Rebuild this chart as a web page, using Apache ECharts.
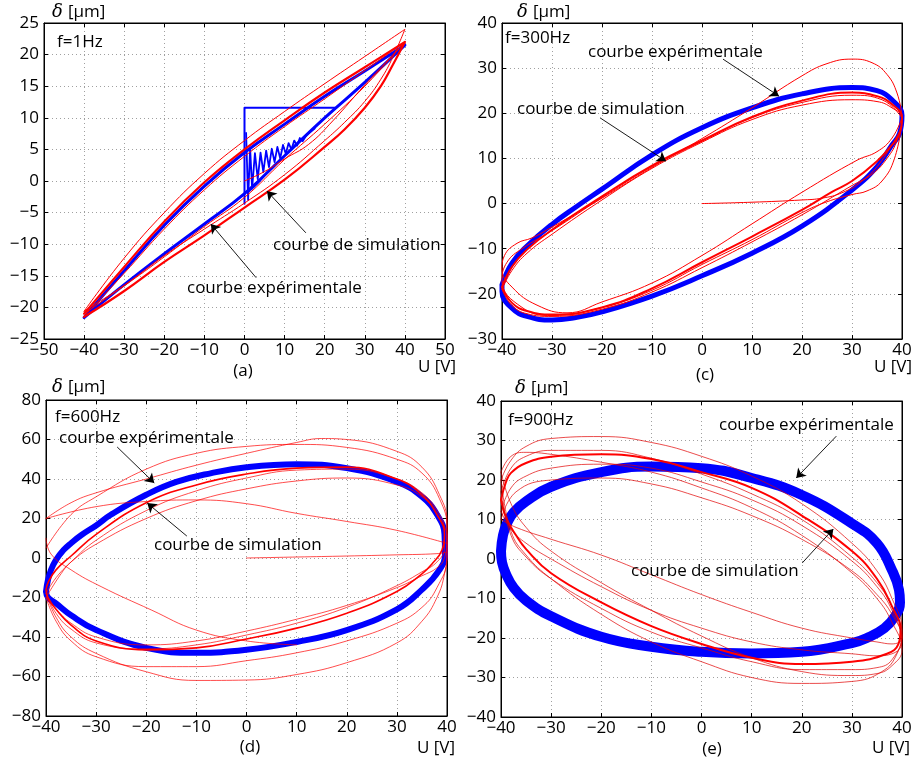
<!DOCTYPE html>
<html>
<head>
<meta charset="utf-8">
<script src="https://cdn.jsdelivr.net/npm/echarts@6/dist/echarts.min.js"></script>
<style>html,body{margin:0;padding:0;background:#fff}#c{width:918px;height:764px}</style>
</head>
<body>
<div id="c"></div>
<script>
// ---------------- DATA ----------------
// panel (a) f=1Hz
const a_exp_loop = [[-40,-21.6],[-30,-14.2],[-20,-7],[-10,-0.8],[0,4.5],[10,9],[20,13.4],[30,17.4],[40,21.5],[30,15.6],[20,10],[10,4],[0,-2],[-10,-6.8],[-20,-11.5],[-30,-16.4],[-40,-21.6]];
const a_exp_step = [[0,-3.6],[0,11.6],[22.5,11.6]];
const a_exp_ring = [[0.4,7.6],[0.9,-3],[1.4,5.2],[1.9,-1.2],[2.6,4.4],[3.3,0.3],[4,4.5],[4.7,1.4],[5.4,4.8],[6.1,2.2],[6.8,5.1],[7.5,3],[8.2,5.4],[8.9,3.6],[9.6,5.7],[10.3,4.3],[11,6],[11.7,5],[12.4,6.4],[13.1,5.6],[13.8,6.8],[14.5,6.3],[15.5,7.3],[17.5,8.3]];
const a_exp_foot = [[1.2,-1.6],[3.5,-0.2],[6,1.6]];
const a_sim_main = [[-40,-21],[-30,-13.6],[-20,-6.4],[-10,-0.2],[0,5],[10,9.6],[20,14],[30,18],[40,22],[37,18.4],[34,15],[30,11.6],[25,8.2],[20,5.4],[10,0.2],[0,-4.2],[-10,-8.6],[-20,-12.8],[-30,-17.4],[-40,-21.5]];
const a_sim_outer = [[-40,-20.6],[-30,-12.2],[-20,-5],[-10,1.2],[0,6.4],[10,11],[20,15.4],[30,19.7],[40,24],[37,19.6],[34,16.1],[30,12.6],[25,9.3],[20,6.4],[10,1],[0,-3.5],[-10,-7.6],[-20,-11.8],[-30,-16.5],[-40,-20.6]];
const a_sim_inner = [[-40,-21.4],[-30,-14.6],[-20,-7.6],[-10,-1.4],[0,3.9],[10,8.6],[20,13],[30,17.5],[40,22],[30,15],[20,9],[10,3.4],[0,-2.6],[-10,-7.2],[-20,-12],[-30,-16.6],[-40,-21]];
const a_sim_init = [[0,0],[5,1.5],[10,3.5],[16,5.8],[22,9.5],[30,15.2],[40,22]];

// panel (c) f=300Hz
const c_exp_loop = [[-40,-18],[-38,-13.2],[-35,-9.4],[-30,-4.6],[-25,-0.6],[-20,3.2],[-10,10.8],[0,16.8],[10,21.2],[20,24.3],[30,25.7],[35,25],[38,23],[40,19.5],[39.5,15.5],[38,13],[35,8.2],[30,3],[20,-5],[10,-11],[0,-16],[-10,-20.5],[-20,-24],[-25,-25.2],[-30,-25.8],[-35,-25],[-38,-23.2],[-40,-19.5],[-40,-18]];
const c_sim_main = [[-40,-18.5],[-38,-14],[-35,-10.2],[-30,-5.8],[-20,1.6],[-10,8.4],[0,14],[10,19.2],[20,22.8],[30,24.6],[35,23.8],[38,22],[40,19],[39.5,15.5],[38,13],[35,9.4],[30,5],[26,2.6],[20,-1.4],[10,-7.3],[0,-13],[-10,-18.8],[-20,-23],[-30,-24.6],[-35,-23.8],[-38,-22],[-40,-18.5]];
const c_sim_b = [[-40,-19],[-38,-14.8],[-35,-11],[-30,-6.8],[-20,0.8],[-10,7.8],[0,13.6],[10,18.6],[20,21.8],[30,23],[35,22.6],[38,21.2],[40,19],[39,14],[37,10],[34,6.5],[30,4],[20,-2.5],[10,-8.5],[0,-14.2],[-10,-19.6],[-20,-23.4],[-30,-25],[-35,-24.4],[-38,-22.6],[-40,-19]];
const c_sim_c = [[40,19],[38,14.5],[35,11.5],[31,9.6],[20,2.5],[10,-4.5],[0,-11.5],[-10,-17.6],[-20,-21.8],[-27,-24.2],[-33,-22.5],[-38,-18.5],[-40,-14.5],[-39.5,-11.5],[-37,-8.8],[-34,-7.6],[-30,-5.2],[-20,1.2],[-10,8],[0,14.4],[10,21.2],[20,28.3],[25,31],[30,32],[34,31.2],[37,28.6],[39,24.5],[40,19.5]];
const c_sim_d = [[40,18],[38.5,10],[36,5],[33,2.8],[30,2],[25,0.4],[20,-2],[10,-8],[0,-13.5],[-10,-19.2],[-20,-23],[-30,-24.8],[-36,-23],[-40,-17],[-39,-13],[-36,-10],[-30,-6],[-20,1.3],[-10,8.2],[0,13.8],[10,19],[20,22.4],[30,24],[36,23],[40,19]];
const c_sim_init = [[0,0],[10,0.3],[20,0.8],[24,1.2],[28,2.4],[32,5],[36,9.6],[40,17]];

// panel (d) f=600Hz
const d_exp_loop = [[-40,-17],[-39.6,-11],[-39,-6],[-38,-1],[-36.5,4],[-35,7.5],[-33,11.5],[-30,16.5],[-27,22],[-20,32],[-14,38.5],[-7,43],[0,46],[10,47.5],[20,45.5],[30,38.5],[35,31],[38,22],[39.5,12],[39.6,2],[38.5,-6],[35,-16],[30,-26],[20,-36.5],[10,-42.5],[0,-46.5],[-10,-48],[-20,-45.5],[-30,-36.5],[-35,-29],[-38,-23],[-39.6,-20],[-40,-17]];
const d_sim_main = [[-40,-16],[-39.5,-12],[-38,-6],[-35,1],[-30,12],[-20,28],[-10,37],[0,42.5],[10,45.5],[20,46],[30,40],[35,32],[38,22],[39.5,12],[39,4],[37,-3],[35,-8],[30,-17],[20,-28],[10,-35.5],[0,-41],[-10,-45.5],[-20,-46.5],[-30,-42],[-35,-34],[-38,-26],[-39.6,-20],[-40,-16]];
const d_sim_b = [[-40,-18],[-38,-10],[-35,-2],[-30,9],[-20,24],[-10,34],[0,40.5],[10,44.5],[20,45],[30,40],[35,33],[38,24],[39.5,14],[39.5,5],[38,-2],[35,-7],[30,-14],[20,-25],[10,-33],[0,-39],[-10,-44],[-20,-46],[-30,-43],[-35,-36],[-38,-28],[-40,-18]];
const d_sim_in = [[-40,-20],[-37,-8],[-35,-2],[-30,7],[-20,20],[-10,29],[0,35],[10,39],[20,40.5],[30,37],[35,31],[38,22],[40,10],[39.5,0],[38,-5],[35,-9],[30,-15],[20,-24],[10,-31],[0,-37],[-10,-42],[-20,-44],[-30,-40],[-35,-33],[-38,-26],[-40,-20]];
const d_sim_o1 = [[-40,5],[-35,22],[-30,31],[-20,45],[-10,53],[0,56.5],[10,57.5],[20,56],[30,50],[35,43],[38.5,30],[40,15],[40,5],[39.5,-8],[38,-20],[35,-32],[30,-43],[20,-53],[10,-59],[0,-61.8],[-10,-62],[-20,-57.6],[-30,-48.3],[-35,-40],[-38,-30],[-40,-18]];
const d_sim_o2 = [[-40,20],[-35,28],[-30,33],[-20,40],[-10,47],[0,53],[10,58.5],[15,60.5],[20,60],[30,54],[35,46],[38.5,32],[40,18],[40,0],[38,-15],[35,-25],[30,-33],[20,-42],[10,-48],[0,-52],[-10,-55],[-20,-55],[-30,-50],[-35,-42],[-38,-32],[-40,-20]];
const d_sim_x1 = [[-40,20],[-30,26],[-20,28.6],[-10,29.4],[0,27.5],[10,22.6],[20,18.5],[30,14],[40,7.4]];
const d_sim_x2 = [[-40,10],[-39,2],[-35,-6],[-29,-14.5],[-19,-26.3],[-10,-36.5],[0,-42],[10,-44]];
const d_sim_init = [[0,0],[10,0.5],[20,1],[30,1.6],[38,2.2],[40,3]];

// panel (e) f=900Hz
const e_exp_loop = [[-40,2],[-39.6,6],[-38.8,9],[-37.5,11.8],[-35,14.6],[-30,18.3],[-20,22],[-10,23.4],[0,23],[10,20.5],[20,16.2],[30,9],[35,4],[38,-2.8],[39.4,-7.8],[39.6,-11],[38.6,-14.5],[36.5,-17.5],[33,-20],[30,-21.3],[20,-23.5],[10,-23.9],[0,-23.5],[-10,-22.2],[-20,-19.7],[-30,-14.5],[-35,-10.5],[-37.5,-7.2],[-39,-3.8],[-39.8,-0.8],[-40,2]];
const e_sim_main = [[-40,15],[-39,19.5],[-38,21.8],[-35,24.3],[-30,25.9],[-20,26.5],[-10,25.3],[0,22],[10,18],[20,11],[30,2],[35,-5],[38,-12],[39.7,-18],[39.3,-21.5],[37,-24],[30,-26],[20,-26.6],[10,-25],[0,-21.5],[-10,-17],[-20,-11],[-30,-3.6],[-35,2.5],[-37,6],[-39,10.5],[-40,15]];
const e_sim_o1 = [[-40,20],[-38,25],[-35,28.5],[-30,30.5],[-20,31],[-10,29.5],[0,26],[10,21],[20,14],[30,4],[35,-3],[38,-10],[40,-18],[39,-24],[36,-28.5],[30,-31],[20,-31.5],[10,-30],[0,-26],[-10,-21],[-20,-14],[-30,-5],[-35,1],[-38,7],[-40,20]];
const e_sim_i1 = [[-40,10],[-37,17],[-30,20],[-20,20.5],[-10,19],[0,15.5],[10,11],[20,5],[30,-3],[35,-9],[38,-14],[40,-20],[38,-21.5],[35,-21],[30,-20],[20,-17.5],[10,-13.5],[0,-9],[-10,-4],[-20,1],[-30,5],[-37,8],[-40,10]];
const e_sim_v2 = [[-40,17],[-38,23],[-35,26],[-30,27.5],[-20,27.5],[-10,25.5],[0,21.5],[10,16.5],[20,10],[30,0.5],[35,-6],[38,-12],[40,-19],[38,-25.5],[35,-27.5],[30,-28],[20,-28],[10,-26],[0,-22.5],[-10,-18.5],[-20,-12.5],[-30,-5],[-35,0.5],[-38,6],[-40,17]];
const e_sim_v3 = [[-40,12],[-38,18],[-35,21],[-30,23],[-20,24],[-10,23],[0,19.5],[10,15],[20,8.5],[30,-0.5],[35,-7],[38,-13],[40,-21],[38,-24],[35,-24.5],[30,-24],[20,-23],[10,-21],[0,-17.5],[-10,-13],[-20,-7],[-30,0],[-35,4],[-38,7.5],[-40,12]];
const e_sim_v4 = [[-40,22],[-38,26],[-35,27],[-30,26.5],[-20,24.5],[-10,22],[0,18],[10,13],[20,6],[30,-3.5],[35,-10],[38,-16],[40,-23],[38,-27],[35,-29],[30,-29.5],[20,-28.5],[10,-25],[0,-19.5],[-10,-13],[-20,-6],[-30,2],[-35,8],[-38,14],[-40,22]];

// axis ranges / ticks
const axX = [[-50,50,10],[-40,40,10],[-40,40,10],[-40,40,10]];
const axY = [[-25,25,5],[-30,40,10],[-80,80,20],[-40,40,10]];
const freqLabels = ['f=1Hz','f=300Hz','f=600Hz','f=900Hz'];
const panelLabels = ['(a)','(c)','(d)','(e)'];
const annExp = 'courbe expérimentale';
const annSim = 'courbe de simulation';
// arrow start/end (data coords) : [exp, sim]
const arrows = [
  [[[2.9,-15.3],[-8.4,-6.8]], [[15.3,-8.2],[5.6,-1.6]]],
  [[[4.2,32],[15.4,23.8]], [[-20.4,19],[-7.2,9.4]]],
  [[[-25.8,56.2],[-18.4,38]], [[-11.9,11.1],[-19.8,27.8]]],
  [[[26.9,31.1],[18.9,20.5]], [[20.1,-1],[26.3,7.6]]]
];

// ---------------- CHART ----------------
const FONT = '"Open Sans", sans-serif';
const grids = [
  {left:44, top:23, width:401, height:316},
  {left:502, top:23, width:400, height:316},
  {left:46, top:400, width:401, height:316},
  {left:501, top:401, width:401, height:316}
];
const minus = v => String(v).replace('-', '\u2212');
const xAxes = [], yAxes = [];
grids.forEach((g, i) => {
  const [x0,x1,xi] = axX[i], [y0,y1,yi] = axY[i];
  const common = () => ({axisLine:{show:true,onZero:false,lineStyle:{color:'#000',width:1}}, axisTick:{show:true,inside:true,length:4,lineStyle:{color:'#000'}}});
  const split = {show:true, lineStyle:{color:'#a0a0a0', type:[1,3], width:1}};
  xAxes.push(Object.assign({type:'value', gridIndex:i, min:x0, max:x1, interval:xi, position:'bottom',
    axisLabel:{show:true, color:'#000', fontFamily:FONT, fontSize:17, margin:3, formatter:minus, showMaxLabel:true, showMinLabel:true},
    splitLine:split}, common()));
  xAxes.push(Object.assign({type:'value', gridIndex:i, min:x0, max:x1, interval:xi, position:'top',
    axisLabel:{show:false}, splitLine:{show:false}}, common()));
  yAxes.push(Object.assign({type:'value', gridIndex:i, min:y0, max:y1, interval:yi, position:'left',
    axisLabel:{show:true, color:'#000', fontFamily:FONT, fontSize:17, margin:5, formatter:minus},
    splitLine:split}, common()));
  yAxes.push(Object.assign({type:'value', gridIndex:i, min:y0, max:y1, interval:yi, position:'right',
    axisLabel:{show:false}, splitLine:{show:false}}, common()));
});

function ln(data, gi, color, width, z, extra) {
  return Object.assign({type:'line', data:data, xAxisIndex:2*gi, yAxisIndex:2*gi, showSymbol:false, symbol:'none',
    smooth:0.45, lineStyle:{color:color, width:width, cap:'round', join:'round'}, z:z||2, clip:true, animation:false, silent:true}, extra||{});
}
function marks(i) {
  return {silent:true, animation:false, symbol:['none','arrow'], symbolSize:9,
    lineStyle:{color:'#000', width:0.9, type:'solid'}, itemStyle:{color:'#000'}, label:{show:false}, emphasis:{disabled:true},
    data: arrows[i].map(a => [{coord:a[0]},{coord:a[1]}])};
}
const BLUE = '#0000ff', RED = '#ff0000', RED2 = 'rgba(255,0,0,0.7)', RED3 = 'rgba(225,0,0,0.7)';
const series = [
  // (a)
  ln(a_exp_loop,0,BLUE,3,2),
  ln(a_exp_step,0,BLUE,2,2,{smooth:false}),
  ln(a_exp_ring,0,BLUE,1.8,2,{smooth:false}),
  ln(a_exp_foot,0,BLUE,1.8,2),
  ln(a_sim_main,0,RED,2.2,3),
  ln(a_sim_outer,0,RED,1,3),
  ln(a_sim_inner,0,RED,1,3),
  ln(a_sim_init,0,RED,1,3,{markLine:marks(0), z:5}),
  // (c)
  ln(c_exp_loop,1,BLUE,5,2),
  ln(c_sim_main,1,RED,2,3),
  ln(c_sim_b,1,RED,1,3),
  ln(c_sim_c,1,RED,1,3),
  ln(c_sim_d,1,RED,1,3),
  ln(c_sim_init,1,RED,1,3,{markLine:marks(1), z:5}),
  // (d)
  ln(d_exp_loop,2,BLUE,6,2),
  ln(d_sim_main,2,RED,1.6,3),
  ln(d_sim_b,2,RED2,1,3),
  ln(d_sim_in,2,RED2,1,3),
  ln(d_sim_o1,2,RED2,1,3),
  ln(d_sim_o2,2,RED2,1,3),
  ln(d_sim_x1,2,RED2,1,3),
  ln(d_sim_x2,2,RED2,1,3),
  ln(d_sim_init,2,RED2,1,3,{markLine:marks(2), z:5}),
  // (e)
  ln(e_exp_loop,3,BLUE,10,2),
  ln(e_sim_main,3,RED,2,3),
  ln(e_sim_o1,3,RED3,1,3),
  ln(e_sim_i1,3,RED3,1,3),
  ln(e_sim_v2,3,RED3,1,3),
  ln(e_sim_v3,3,RED3,1,3),
  ln(e_sim_v4,3,RED3,1,3,{markLine:marks(3), z:5})
];

// text graphics
const T = (x, y, text, align, extra) => ({type:'text', x:x, y:y, z:100, silent:true,
  style:Object.assign({text:text, font:'17px ' + FONT, fill:'#000', align:align||'left', textAlign:align||'left', verticalAlign:'middle', textVerticalAlign:'middle'}, extra||{})});
const deltaPos = [[52,12],[517,12],[52,387],[515,388]];
const fPos = [[57,42],[505,38],[55,417],[508,420]];
const pPos = [[243,371],[705,375],[250,747],[712,749]];
const uPos = [[456,367],[912,367],[455,748],[910,748]];
const expPos = [[187,288],[588,52],[59,438],[719,425]];
const simPos = [[273,245],[517,109],[154,545],[631,571]];
const graphic = [];
for (let i = 0; i < 4; i++) {
  graphic.push(T(deltaPos[i][0], deltaPos[i][1], 'δ', 'left', {font:'italic 18px "DejaVu Serif", serif'}));
  graphic.push(T(deltaPos[i][0] + 16, deltaPos[i][1], '[μm]', 'left'));
  graphic.push(T(fPos[i][0], fPos[i][1], freqLabels[i], 'left'));
  graphic.push(T(pPos[i][0], pPos[i][1], panelLabels[i], 'center'));
  graphic.push(T(uPos[i][0], uPos[i][1], 'U [V]', 'right'));
  graphic.push(T(expPos[i][0], expPos[i][1], annExp, 'left'));
  graphic.push(T(simPos[i][0], simPos[i][1], annSim, 'left'));
}

const chart = echarts.init(document.getElementById('c'), null, {renderer:'canvas'});
chart.setOption({
  animation:false,
  backgroundColor:'#fff',
  grid: grids.map(g => Object.assign({containLabel:false, show:true, borderColor:'#000', borderWidth:1, backgroundColor:'#fff'}, g)),
  xAxis: xAxes,
  yAxis: yAxes,
  series: series,
  graphic: graphic
});
</script>
</body>
</html>
